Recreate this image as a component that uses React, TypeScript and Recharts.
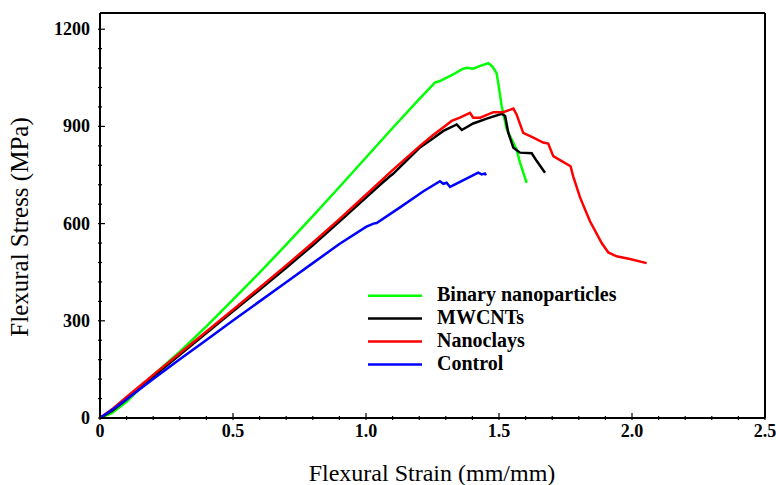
import { LineChart, Line, XAxis, YAxis, ReferenceLine, Legend } from "recharts";

// strain (mm/mm), stress (MPa)
const binaryPts: [number, number][] = [
  [0, 0], [0.044, 15], [0.1, 50], [0.2, 132], [0.3, 205], [0.4, 283], [0.5, 365],
  [0.6, 449], [0.7, 535], [0.8, 623], [0.9, 713], [1.0, 804], [1.1, 895], [1.2, 984],
  [1.259, 1035], [1.278, 1040], [1.322, 1058], [1.36, 1076], [1.378, 1081], [1.403, 1078],
  [1.429, 1087], [1.46, 1095], [1.475, 1085], [1.491, 1064], [1.497, 1035], [1.51, 963],
  [1.529, 891], [1.566, 829], [1.579, 788], [1.604, 726],
];
const mwcntPts: [number, number][] = [
  [0, 0], [0.05, 25], [0.1, 58], [0.2, 127], [0.3, 195], [0.4, 262], [0.5, 329],
  [0.6, 396], [0.7, 464], [0.8, 533], [0.9, 606], [1.0, 680], [1.053, 720], [1.09, 746],
  [1.1, 752], [1.203, 835], [1.25, 862], [1.291, 886], [1.341, 906], [1.36, 889],
  [1.403, 909], [1.454, 924], [1.51, 939], [1.523, 932], [1.535, 880], [1.554, 834],
  [1.579, 819], [1.623, 817], [1.642, 793], [1.673, 757],
];
const nanoclayPts: [number, number][] = [
  [0, 0], [0.05, 30], [0.1, 65], [0.2, 133], [0.3, 200], [0.4, 267], [0.5, 334],
  [0.6, 402], [0.7, 471], [0.8, 541], [0.9, 614], [1.0, 689], [1.05, 727], [1.1, 765],
  [1.203, 840], [1.25, 872], [1.3, 903], [1.322, 917], [1.353, 927], [1.391, 942],
  [1.403, 927], [1.429, 927], [1.479, 944], [1.516, 944], [1.554, 955], [1.566, 937],
  [1.591, 880], [1.629, 865], [1.666, 850], [1.685, 847], [1.704, 808], [1.736, 793],
  [1.769, 777], [1.779, 746], [1.805, 680], [1.842, 607], [1.886, 540], [1.911, 511],
  [1.942, 499], [1.992, 491], [2.055, 478],
];
const controlPts: [number, number][] = [
  [0, 0], [0.05, 28], [0.1, 58], [0.2, 120], [0.3, 181], [0.4, 241], [0.5, 301],
  [0.6, 360], [0.7, 419], [0.8, 478], [0.9, 537], [1.0, 590], [1.028, 600], [1.04, 602],
  [1.128, 650], [1.216, 700], [1.278, 731], [1.291, 723], [1.303, 726], [1.316, 713],
  [1.422, 757], [1.435, 752], [1.447, 755], [1.451, 749],
];

const xTicks = [0, 0.1, 0.2, 0.3, 0.4, 0.5, 0.6, 0.7, 0.8, 0.9, 1.0, 1.1, 1.2, 1.3, 1.4, 1.5,
  1.6, 1.7, 1.8, 1.9, 2.0, 2.1, 2.2, 2.3, 2.4, 2.5];
const yTicks = [0, 60, 120, 180, 240, 300, 360, 420, 480, 540, 600, 660, 720, 780, 840, 900,
  960, 1020, 1080, 1140, 1200];

const series = [
  { name: "Binary nanoparticles", color: "#00ff00", pts: binaryPts },
  { name: "MWCNTs", color: "#000000", pts: mwcntPts },
  { name: "Nanoclays", color: "#ff0000", pts: nanoclayPts },
  { name: "Control", color: "#0000ff", pts: controlPts },
];

const FONT = '"Liberation Serif", "Times New Roman", serif';

const isMajorX = (v: number) => Math.abs(v * 2 - Math.round(v * 2)) < 1e-6;

function XTick(props: any) {
  const { x, y, payload } = props;
  const v = payload.value as number;
  const major = isMajorX(v);
  return (
    <g>
      <line x1={x} x2={x} y1={y} y2={y - (major ? 7 : 4)} stroke="#000" strokeWidth={1.2} />
      {major && (
        <text x={x} y={y + 17} textAnchor="middle" fontFamily={FONT} fontWeight="bold" fontSize={18} fill="#000">
          {v === 0 ? "0" : v.toFixed(1)}
        </text>
      )}
    </g>
  );
}

function YTick(props: any) {
  const { x, y, payload } = props;
  const v = payload.value as number;
  const major = v % 300 === 0;
  return (
    <g>
      <line x1={x} x2={x + (major ? 7 : 4)} y1={y} y2={y} stroke="#000" strokeWidth={1.2} />
      {major && (
        <text x={x - 8} y={y + 6} textAnchor="end" fontFamily={FONT} fontWeight="bold" fontSize={18} fill="#000">
          {v}
        </text>
      )}
    </g>
  );
}

function LegendBox() {
  return (
    <svg width={300} height={95} style={{ overflow: "visible", display: "block" }}>
      {series.map((s, i) => {
        const ly = 12.7 + i * 22.9;
        return (
          <g key={s.name}>
            <line x1={8} x2={62} y1={ly} y2={ly} stroke={s.color} strokeWidth={2.5} />
            <text x={77} y={ly + 5.5} fontFamily={FONT} fontWeight="bold" fontSize={20} fill="#000">
              {s.name}
            </text>
          </g>
        );
      })}
    </svg>
  );
}

export default function App() {
  return (
    <div style={{ width: 776, height: 485, background: "#fff" }}>
      <style>{"body{margin:0}"}</style>
      <LineChart width={776} height={485} margin={{ top: 13, right: 11, bottom: 0, left: 0 }}>
        <XAxis
          dataKey="x"
          type="number"
          domain={[0, 2.5]}
          ticks={xTicks}
          interval={0}
          tickSize={0}
          tickLine={false}
          tick={<XTick />}
          height={67}
          axisLine={{ stroke: "#000", strokeWidth: 2 }}
          allowDuplicatedCategory={false}
          label={() => (
            <text x={432} y={481} textAnchor="middle" fontFamily={FONT} fontSize={24} fill="#000">
              Flexural Strain (mm/mm)
            </text>
          )}
        />
        <YAxis
          dataKey="y"
          type="number"
          domain={[0, 1250]}
          ticks={yTicks}
          interval={0}
          tickSize={0}
          tickLine={false}
          tick={<YTick />}
          width={100}
          axisLine={{ stroke: "#000", strokeWidth: 2 }}
          label={() => (
            <text x={28} y={227} transform="rotate(-90, 28, 227)" textAnchor="middle" fontFamily={FONT} fontSize={25} fill="#000">
              Flexural Stress (MPa)
            </text>
          )}
        />
        <ReferenceLine y={1250} stroke="#000" strokeWidth={2} />
        <ReferenceLine x={2.5} stroke="#000" strokeWidth={2} />
        {series.map((s) => (
          <Line
            key={s.name}
            name={s.name}
            data={s.pts.map(([x, y]) => ({ x, y }))}
            dataKey="y"
            type="linear"
            stroke={s.color}
            strokeWidth={2.5}
            dot={false}
            activeDot={false}
            isAnimationActive={false}
          />
        ))}
        <Legend
          layout="vertical"
          content={<LegendBox />}
          wrapperStyle={{ left: 360, top: 283, width: 300, height: 0, overflow: "visible" }}
        />
      </LineChart>
    </div>
  );
}
